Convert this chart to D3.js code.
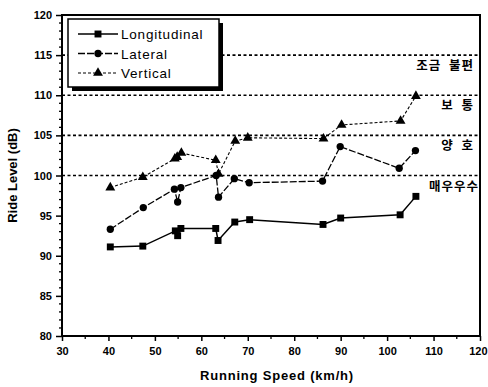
<!DOCTYPE html>
<head>
    <script src="https://d3js.org/d3.v7.min.js"></script>
    <style>
        body { margin: 0; background: #fff; }
        text { font-family: "Liberation Sans", Arial, sans-serif; fill: #000; }
    </style>
</head>

<body>
    <div id="chart"></div>
</body>

<script>

    // values (speed in km/h, level in dB)
    const longSpeed = [40.4, 47.4, 54.4, 54.9, 55.6, 63.1, 63.6, 67.2, 70.4, 86.2, 90.0, 102.8, 106.2];
    const longLevel = [91.1, 91.2, 93.1, 92.5, 93.4, 93.4, 91.9, 94.2, 94.5, 93.9, 94.7, 95.1, 97.4];

    const latSpeed = [40.4, 47.5, 54.2, 54.9, 55.6, 63.2, 63.7, 67.1, 70.3, 86.1, 89.9, 102.6, 106.1];
    const latLevel = [93.3, 96.0, 98.3, 96.7, 98.5, 100.0, 97.3, 99.6, 99.1, 99.3, 103.6, 100.9, 103.1];

    const vertSpeed = [40.4, 47.4, 54.3, 54.8, 55.7, 63.1, 63.7, 67.3, 70.0, 86.3, 90.2, 102.9, 106.2];
    const vertLevel = [98.5, 99.8, 102.1, 102.3, 102.8, 101.9, 100.2, 104.3, 104.7, 104.6, 106.3, 106.8, 109.9];

    const seriesNames = ["Longitudinal", "Lateral", "Vertical"];

    // comfort bands: threshold + label
    const bandLevels = [115, 110, 105, 100];
    const bandLabels = ["조금 불편", "보 통", "양 호", "매우우수"];

    const xTicks = [30, 40, 50, 60, 70, 80, 90, 100, 110, 120];
    const yTicks = [80, 85, 90, 95, 100, 105, 110, 115, 120];

    const width = 488, height = 387;
    const margin = {left: 62, right: 8, top: 15, bottom: 51};

    const x = d3.scaleLinear().domain([30, 120]).range([margin.left, width - margin.right]);
    const y = d3.scaleLinear().domain([80, 120]).range([height - margin.bottom, margin.top]);

    const svg = d3.select("#chart").append("svg")
        .attr("width", width)
        .attr("height", height);

    // dotted comfort thresholds
    svg.selectAll("line.band").data(bandLevels)
        .enter().append("line").attr("class", "band")
        .attr("x1", x(30)).attr("x2", x(120))
        .attr("y1", d => y(d)).attr("y2", d => y(d))
        .attr("stroke", "#000")
        .attr("stroke-width", 1.6)
        .attr("stroke-dasharray", "3,2.5");

    svg.selectAll("text.band").data(bandLabels)
        .enter().append("text").attr("class", "band")
        .attr("x", (d, i) => i == 3 ? x(120) - 1 : x(120) - 6)
        .attr("y", (d, i) => y(bandLevels[i]) + 15)
        .attr("text-anchor", "end")
        .style("font-family", "'Noto Sans CJK KR', sans-serif")
        .style("font-size", "12.5px")
        .style("font-weight", "bold")
        .style("letter-spacing", "1px")
        .attr("xml:space", "preserve")
        .text(d => d.replace(" ", "  "));

    // axes
    const xAxis = d3.axisBottom(x).tickValues(xTicks).tickSize(5).tickPadding(6);
    const yAxis = d3.axisLeft(y).tickValues(yTicks).tickSize(6).tickPadding(4);

    const gx = svg.append("g")
        .attr("transform", `translate(0,${y(80)})`)
        .call(xAxis);
    const gy = svg.append("g")
        .attr("transform", `translate(${x(30)},0)`)
        .call(yAxis);

    // minor ticks
    svg.append("g").selectAll("line")
        .data(d3.range(35, 120, 10))
        .enter().append("line")
        .attr("x1", d => x(d)).attr("x2", d => x(d))
        .attr("y1", y(80)).attr("y2", y(80) + 3)
        .attr("stroke", "#000").attr("stroke-width", 1.3);
    svg.append("g").selectAll("line")
        .data(d3.range(81, 120, 1).filter(d => d % 5 != 0))
        .enter().append("line")
        .attr("x1", x(30) - 3).attr("x2", x(30))
        .attr("y1", d => y(d)).attr("y2", d => y(d))
        .attr("stroke", "#000").attr("stroke-width", 1.3);

    [gx, gy].forEach(g => {
        g.select(".domain").remove();
        g.selectAll(".tick line").attr("stroke-width", 1.5);
        g.selectAll(".tick text")
            .style("font-size", "11px")
            .style("font-weight", "bold")
            .style("font-family", "'Liberation Sans', Arial, sans-serif");
    });
    // last x label sits against the right edge
    gx.selectAll(".tick text").filter(d => d == 120)
        .attr("text-anchor", "end")
        .attr("dx", 7);

    // frame
    svg.append("rect")
        .attr("x", x(30)).attr("y", y(120))
        .attr("width", x(120) - x(30))
        .attr("height", y(80) - y(120))
        .attr("fill", "none")
        .attr("stroke", "#000")
        .attr("stroke-width", 2);

    // series
    const series = [
        {name: seriesNames[0], speed: longSpeed, level: longLevel, dash: null, width: 1.5, marker: d3.symbolSquare, size: 48},
        {name: seriesNames[1], speed: latSpeed, level: latLevel, dash: "7,2", width: 1.3, marker: d3.symbolCircle, size: 42},
        {name: seriesNames[2], speed: vertSpeed, level: vertLevel, dash: "3,2", width: 1.1, marker: d3.symbolTriangle, size: 42}
    ];

    const line = d3.line().x(d => x(d[0])).y(d => y(d[1]));

    series.forEach(s => {
        const pts = d3.zip(s.speed, s.level);
        svg.append("path")
            .attr("d", line(pts))
            .attr("fill", "none")
            .attr("stroke", "#000")
            .attr("stroke-width", s.width)
            .attr("stroke-dasharray", s.dash);
        svg.append("g").selectAll("path")
            .data(pts)
            .enter().append("path")
            .attr("transform", d => `translate(${x(d[0])},${y(d[1])})`)
            .attr("d", d3.symbol().type(s.marker).size(s.size))
            .attr("fill", "#000");
    });

    // legend box with shadow
    const lg = svg.append("g").attr("transform", "translate(68,19)");
    lg.append("rect")
        .attr("x", 4).attr("y", 4).attr("width", 151).attr("height", 68)
        .attr("fill", "#000");
    lg.append("rect")
        .attr("x", 0).attr("y", 0).attr("width", 151).attr("height", 68)
        .attr("fill", "#fff").attr("stroke", "#000").attr("stroke-width", 1.5);

    series.forEach((s, i) => {
        const ly = 15 + i * 19.5;
        lg.append("line")
            .attr("x1", 10).attr("x2", 50)
            .attr("y1", ly).attr("y2", ly)
            .attr("stroke", "#000")
            .attr("stroke-width", s.width)
            .attr("stroke-dasharray", s.dash);
        lg.append("path")
            .attr("transform", `translate(30,${ly})`)
            .attr("d", d3.symbol().type(s.marker).size(s.size))
            .attr("fill", "#000");
        lg.append("text")
            .attr("x", 53).attr("y", ly + 5)
            .style("font-size", "13.5px")
            .style("letter-spacing", "0.8px")
            .text(s.name);
    });

    // axis titles
    svg.append("text")
        .attr("transform", `translate(17,${(y(80) + y(120)) / 2}) rotate(-90)`)
        .attr("text-anchor", "middle")
        .style("font-size", "13px")
        .style("font-weight", "bold")
        .text("Ride Level (dB)");

    svg.append("text")
        .attr("x", (x(30) + x(120)) / 2 + 6)
        .attr("y", 380)
        .attr("text-anchor", "middle")
        .style("font-size", "13px")
        .style("font-weight", "bold")
        .style("letter-spacing", "0.8px")
        .text("Running Speed (km/h)");

</script>
